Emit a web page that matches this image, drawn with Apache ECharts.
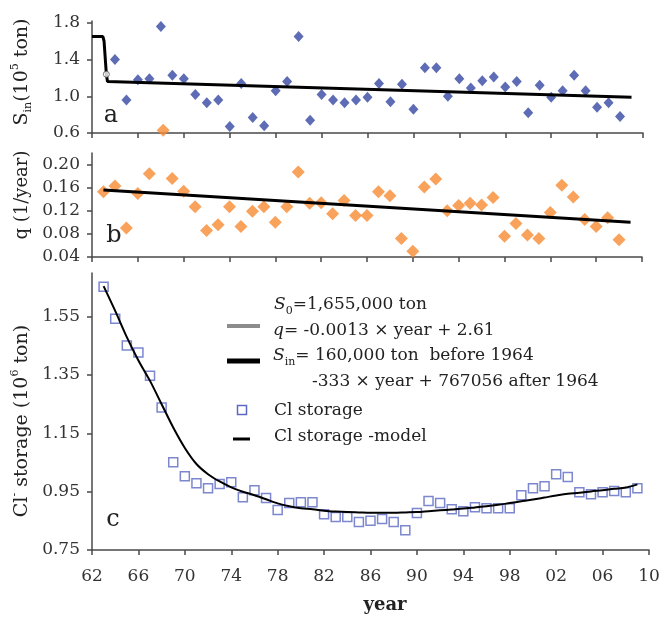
<!DOCTYPE html>
<html><head><meta charset="utf-8">
<script src="https://cdn.jsdelivr.net/npm/echarts@6/dist/echarts.min.js"></script>
<style>html,body{margin:0;padding:0;background:#fff}#c{width:665px;height:626px}</style>
</head><body><div id="c"></div>
<script>
// ---- Panel a: S_in (10^5 ton) ----
const yearsA = [1964,1965,1966,1967,1968,1969,1970,1971,1972,1973,1974,1975,1976,1977,1978,1979,1980,1981,1982,1983,1984,1985,1986,1987,1988,1989,1990,1991,1992,1993,1994,1995,1996,1997,1998,1999,2000,2001,2002,2003,2004,2005,2006,2007,2008];
const sinObs = [1.40,0.96,1.18,1.19,1.76,1.23,1.19,1.02,0.93,0.96,0.67,1.14,0.77,0.68,1.06,1.16,1.65,0.74,1.02,0.96,0.93,0.96,0.99,1.14,0.94,1.13,0.86,1.31,1.31,1.00,1.19,1.09,1.17,1.21,1.10,1.16,0.82,1.12,0.99,1.06,1.23,1.06,0.88,0.93,0.78];
const sinOrangeYears = [1968.2];
const sinOrangeVals = [0.63];
const sinLineYears = [1962, 1962.95, 1963.05, 1963.25, 1963.35, 2009];
const sinLineVals = [1.65, 1.65, 1.60, 1.24, 1.16, 0.99];
const sinCircleYears = [1963.25];
const sinCircleVals = [1.24];

// ---- Panel b: q (1/year) ----
const yearsB = [1963,1964,1965,1966,1967,1969,1970,1971,1972,1973,1974,1975,1976,1977,1978,1979,1980,1981,1982,1983,1984,1985,1986,1987,1988,1989,1990,1991,1992,1993,1994,1995,1996,1997,1998,1999,2000,2001,2002,2003,2004,2005,2006,2007,2008];
const qObs = [0.153,0.163,0.090,0.150,0.184,0.176,0.154,0.127,0.086,0.096,0.127,0.093,0.119,0.127,0.100,0.127,0.187,0.133,0.134,0.115,0.138,0.112,0.112,0.153,0.146,0.072,0.050,0.161,0.175,0.120,0.129,0.133,0.130,0.143,0.076,0.098,0.078,0.072,0.117,0.164,0.144,0.105,0.093,0.108,0.070];
const qLineYears = [1963, 2009];
const qLineVals = [0.156, 0.100];

// ---- Panel c: Cl- storage (10^6 ton) ----
const yearsC = [1963,1964,1965,1966,1967,1968,1969,1970,1971,1972,1973,1974,1975,1976,1977,1978,1979,1980,1981,1982,1983,1984,1985,1986,1987,1988,1989,1990,1991,1992,1993,1994,1995,1996,1997,1998,1999,2000,2001,2002,2003,2004,2005,2006,2007,2008,2009];
const storageObs = [1.653,1.543,1.451,1.427,1.348,1.239,1.051,1.003,0.979,0.962,0.976,0.982,0.931,0.955,0.928,0.887,0.911,0.914,0.914,0.873,0.863,0.863,0.846,0.850,0.856,0.846,0.818,0.877,0.918,0.911,0.890,0.883,0.897,0.893,0.893,0.893,0.938,0.962,0.969,1.010,1.000,0.948,0.941,0.948,0.952,0.948,0.962];
const storageModel = [1.655,1.570,1.480,1.400,1.330,1.250,1.170,1.100,1.045,1.010,0.985,0.965,0.950,0.938,0.924,0.910,0.900,0.893,0.890,0.885,0.882,0.880,0.879,0.878,0.878,0.878,0.879,0.880,0.883,0.886,0.889,0.892,0.896,0.900,0.905,0.911,0.917,0.923,0.930,0.937,0.943,0.946,0.951,0.955,0.960,0.964,0.975];

// ---- ticks ----
const xTicks = [1962,1966,1970,1974,1978,1982,1986,1990,1994,1998,2002,2006,2010];
const yTicksA = [0.6,1.0,1.4,1.8];
const yTicksB = [0.04,0.08,0.12,0.16,0.20];
const yTicksC = [0.75,0.95,1.15,1.35,1.55];

const FONT = '"DejaVu Serif", "Liberation Serif", serif';
const AX = '#4a4a4a';
const TXT = '#333';

function pairs(xs, ys){ return xs.map((x,i)=>[x, ys[i]]); }

function xAxis(idx, showLabels){
  return {
    type:'value', gridIndex: idx, min:1962, max:2010,
    splitLine:{show:false},
    axisLine:{show:true, onZero:false, lineStyle:{color:AX, width:1.5}},
    axisTick:{show:true, length:5, customValues:xTicks, lineStyle:{color:AX, width:1.5}},
    axisLabel:{show:showLabels, customValues:xTicks, margin:18, fontFamily:FONT, fontSize:17, color:TXT,
      formatter: v => String(Math.round(v) % 100).padStart(2,'0')}
  };
}
function yAxis(idx, min, max, ticks, dec){
  return {
    type:'value', gridIndex: idx, min:min, max:max,
    splitLine:{show:false},
    axisLine:{show:true, onZero:false, lineStyle:{color:AX, width:1.5}},
    axisTick:{show:true, length:5, customValues:ticks, lineStyle:{color:AX, width:1.5}},
    axisLabel:{customValues:ticks, margin:12, fontFamily:FONT, fontSize:17, color:TXT,
      formatter: v => Number(v).toFixed(dec)}
  };
}

const richSub = {
  sub:{fontFamily:FONT, fontSize:11, lineHeight:12, verticalAlign:'bottom', fill:'#222'},
  sup:{fontFamily:FONT, fontSize:11, lineHeight:12, verticalAlign:'top', fill:'#222'},
  i:{fontFamily:FONT, fontStyle:'italic', fontSize:17, lineHeight:24, fill:'#222'}
};

function label(x, y, text, size, extra){
  return Object.assign({
    type:'text', x:x, y:y, z:100,
    style:{text:text, fontFamily:FONT, fontSize:size, fill:'#222', lineHeight:24,
      align:'left', verticalAlign:'middle', rich:richSub}
  }, extra||{});
}

const chart = echarts.init(document.getElementById('c'), null, {renderer:'canvas'});
chart.setOption({
  animation:false,
  backgroundColor:'#fff',
  grid:[
    {left:92, top:21, width:551, height:112},
    {left:92, top:153, width:550, height:104},
    {left:92, top:273, width:557, height:277}
  ],
  xAxis:[xAxis(0,false), xAxis(1,false), xAxis(2,true)],
  yAxis:[
    yAxis(0, 0.6, 1.82, yTicksA, 1),
    yAxis(1, 0.04, 0.22, yTicksB, 2),
    yAxis(2, 0.75, 1.70, yTicksC, 2)
  ],
  series:[
    {type:'scatter', xAxisIndex:0, yAxisIndex:0, data:pairs(yearsA, sinObs), symbol:'diamond', symbolSize:[10,11], itemStyle:{color:'#3447a2'}, z:2},
    {type:'scatter', xAxisIndex:0, yAxisIndex:0, data:pairs(sinOrangeYears, sinOrangeVals), symbol:'diamond', symbolSize:[13,13], itemStyle:{color:'#f68b33'}, z:2},
    {type:'line', xAxisIndex:0, yAxisIndex:0, data:pairs(sinLineYears, sinLineVals), showSymbol:false, symbol:'none', lineStyle:{color:'#000', width:3}, z:3},
    {type:'scatter', xAxisIndex:0, yAxisIndex:0, data:pairs(sinCircleYears, sinCircleVals), symbol:'circle', symbolSize:6, itemStyle:{color:'#fff', borderColor:'#555', borderWidth:1}, z:4},
    {type:'scatter', xAxisIndex:1, yAxisIndex:1, data:pairs(yearsB, qObs), symbol:'diamond', symbolSize:[13,13], itemStyle:{color:'#f68b33'}, z:2},
    {type:'line', xAxisIndex:1, yAxisIndex:1, data:pairs(qLineYears, qLineVals), showSymbol:false, symbol:'none', lineStyle:{color:'#000', width:3}, z:3},
    {type:'scatter', xAxisIndex:2, yAxisIndex:2, name:'Cl storage', data:pairs(yearsC, storageObs), symbol:'rect', symbolSize:9, itemStyle:{color:'rgba(255,255,255,0)', borderColor:'#5b69c2', borderWidth:1.5}, z:2},
    {type:'line', xAxisIndex:2, yAxisIndex:2, name:'Cl storage -model', data:pairs(yearsC, storageModel), showSymbol:false, symbol:'none', smooth:0.3, lineStyle:{color:'#000', width:2}, z:3}
  ],
  graphic:[
    // y-axis names
    label(22, 72, 'S{sub|in}(10{sup|5} ton)', 19, {rotation:Math.PI/2, style:{text:'S{sub|in}(10{sup|5} ton)', fontFamily:FONT, fontSize:19, fill:'#222', lineHeight:24, align:'center', verticalAlign:'middle', rich:richSub}}),
    label(22, 195, 'q (1/year)', 18, {rotation:Math.PI/2, style:{text:'q (1/year)', fontFamily:FONT, fontSize:18, fill:'#222', lineHeight:24, align:'center', verticalAlign:'middle', rich:richSub}}),
    label(22, 421, 'Cl{sup|-} storage (10{sup|6} ton)', 19, {rotation:Math.PI/2, style:{text:'Cl{sup|-} storage (10{sup|6} ton)', fontFamily:FONT, fontSize:19, fill:'#222', lineHeight:24, align:'center', verticalAlign:'middle', rich:richSub}}),
    // x-axis name
    {type:'text', x:385, y:605, z:100, style:{text:'year', fontFamily:FONT, fontWeight:'bold', fontSize:18, fill:'#222', align:'center', verticalAlign:'middle'}},
    // panel letters
    {type:'text', x:111, y:116, z:100, style:{text:'a', fontFamily:FONT, fontSize:24, fill:'#222', align:'center', verticalAlign:'middle'}},
    {type:'text', x:114, y:236, z:100, style:{text:'b', fontFamily:FONT, fontSize:24, fill:'#222', align:'center', verticalAlign:'middle'}},
    {type:'text', x:113, y:520, z:100, style:{text:'c', fontFamily:FONT, fontSize:24, fill:'#222', align:'center', verticalAlign:'middle'}},
    // legend
    label(274, 305, '{i|S}{sub|0}=1,655,000 ton', 17),
    {type:'line', z:100, shape:{x1:227, y1:326, x2:260, y2:326}, style:{stroke:'#8c8c8c', lineWidth:4}},
    label(273, 331, '{i|q}= -0.0013 × year + 2.61', 17),
    {type:'line', z:100, shape:{x1:227, y1:361, x2:260, y2:361}, style:{stroke:'#000', lineWidth:5}},
    label(273, 356, '{i|S}{sub|in}= 160,000 ton  before 1964', 17),
    label(312, 382, '-333 × year + 767056 after 1964', 17),
    {type:'rect', z:100, shape:{x:237.5, y:405.5, width:9, height:9}, style:{fill:'rgba(0,0,0,0)', stroke:'#5b69c2', lineWidth:1.5}},
    label(274, 411, 'Cl storage', 17),
    {type:'line', z:100, shape:{x1:233, y1:439, x2:250, y2:439}, style:{stroke:'#000', lineWidth:3}},
    label(274, 437, 'Cl storage -model', 17)
  ]
});
</script></body></html>
